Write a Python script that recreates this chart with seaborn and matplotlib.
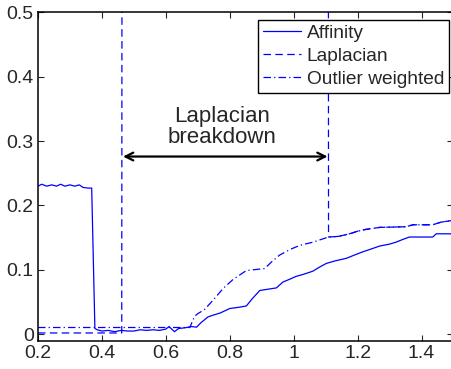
import matplotlib
matplotlib.use("Agg")
import matplotlib.pyplot as plt
import seaborn as sns
from matplotlib.ticker import FuncFormatter

# Affinity curve (solid)
affinity_x = [0.200, 0.212, 0.227, 0.243, 0.258, 0.271, 0.284, 0.300, 0.315, 0.329,
              0.341, 0.357, 0.368, 0.378, 0.385, 0.40, 0.42, 0.44, 0.46, 0.48,
              0.50, 0.52, 0.54, 0.56, 0.58, 0.60, 0.61, 0.627, 0.64, 0.66,
              0.68, 0.696, 0.71, 0.732, 0.75, 0.77, 0.80, 0.83, 0.852, 0.87,
              0.894, 0.92, 0.946, 0.966, 0.99, 1.008, 1.03, 1.06, 1.08, 1.102,
              1.13, 1.165, 1.19, 1.216, 1.24, 1.269, 1.30, 1.32, 1.34, 1.362,
              1.435, 1.446, 1.50]
affinity_y = [0.230, 0.233, 0.230, 0.232, 0.230, 0.233, 0.230, 0.232, 0.230, 0.232,
              0.228, 0.227, 0.227, 0.009, 0.007, 0.005, 0.006, 0.004, 0.006, 0.005,
              0.005, 0.007, 0.006, 0.007, 0.006, 0.008, 0.012, 0.004, 0.009, 0.010,
              0.012, 0.011, 0.018, 0.027, 0.030, 0.033, 0.040, 0.042, 0.044, 0.055,
              0.068, 0.070, 0.072, 0.081, 0.086, 0.090, 0.093, 0.098, 0.104, 0.110,
              0.114, 0.118, 0.123, 0.128, 0.132, 0.137, 0.140, 0.143, 0.147, 0.151,
              0.151, 0.156, 0.156]

# Laplacian curve (dashed) - off the scale between 0.466 and 1.106
laplacian_x = [0.200, 0.462, 0.466, 1.106, 1.109, 1.14, 1.175, 1.20, 1.227, 1.27,
               1.352, 1.373, 1.435, 1.46, 1.50]
laplacian_y = [0.002, 0.002, 3.000, 3.000, 0.151, 0.152, 0.156, 0.160, 0.163, 0.166,
               0.167, 0.170, 0.170, 0.174, 0.177]

# Outlier weighted curve (dash-dot)
outlier_x = [0.200, 0.675, 0.69, 0.70, 0.72, 0.748, 0.779, 0.81, 0.852, 0.909,
             0.93, 0.956, 0.99, 1.019, 1.06, 1.109, 1.14, 1.175, 1.20, 1.227,
             1.27, 1.352, 1.373, 1.435, 1.46, 1.50]
outlier_y = [0.0105, 0.0105, 0.028, 0.032, 0.038, 0.053, 0.071, 0.085, 0.099, 0.102,
             0.112, 0.123, 0.132, 0.138, 0.143, 0.151, 0.152, 0.156, 0.160, 0.163,
             0.166, 0.167, 0.170, 0.170, 0.174, 0.177]

xticks = [0.2, 0.4, 0.6, 0.8, 1.0, 1.2, 1.4]
yticks = [0.0, 0.1, 0.2, 0.3, 0.4, 0.5]

sns.set_style("ticks", {"xtick.direction": "in", "ytick.direction": "in"})
plt.rcParams["font.family"] = ["Liberation Sans", "DejaVu Sans"]

fig = plt.figure(figsize=(4.52, 3.69), dpi=100)
ax = fig.add_axes([38 / 452, 28.3 / 369, 415.5 / 452, 328.4 / 369])

blue = "#0000ff"
sns.lineplot(x=affinity_x, y=affinity_y, ax=ax, color=blue, lw=0.9,
             sort=False, estimator=None, label="Affinity")
sns.lineplot(x=laplacian_x, y=laplacian_y, ax=ax, color=blue, lw=0.9,
             sort=False, estimator=None, label="Laplacian", dashes=False)
sns.lineplot(x=outlier_x, y=outlier_y, ax=ax, color=blue, lw=0.9,
             sort=False, estimator=None, label="Outlier weighted", dashes=False)
ax.lines[1].set_dashes((6, 3.5))
ax.lines[2].set_dashes((6, 2.5, 1, 2.5))

# breakdown arrow
ax.annotate("", xy=(1.106, 0.276), xytext=(0.466, 0.276),
            arrowprops=dict(arrowstyle="<->", color="k", lw=1.6,
                            shrinkA=0, shrinkB=0, mutation_scale=14))
ax.text(0.777, 0.322, "Laplacian\nbreakdown", ha="center", va="center",
        fontsize=16, linespacing=1.0)

ax.set_xlim(0.2, 1.5)
ax.set_ylim(-0.01, 0.5)
ax.set_xticks(xticks)
ax.set_yticks(yticks)
fmt = FuncFormatter(lambda v, p: f"{v:g}")
ax.xaxis.set_major_formatter(fmt)
ax.yaxis.set_major_formatter(fmt)
ax.tick_params(axis="both", which="both", labelsize=14, length=4, width=0.8,
               top=True, right=True, pad=3)
for s in ax.spines.values():
    s.set_linewidth(1.1)
    s.set_color("black")
ax.set_xlabel("")
ax.set_ylabel("")

leg = ax.legend(loc="upper right", bbox_to_anchor=(0.989, 0.978), borderaxespad=0,
                fontsize=13.8, frameon=True, fancybox=False, framealpha=1,
                edgecolor="black", handlelength=2.0, handletextpad=0.3,
                labelspacing=0.3, borderpad=0.25)
leg.get_frame().set_linewidth(1.0)

fig.savefig("out.png", dpi=100)
